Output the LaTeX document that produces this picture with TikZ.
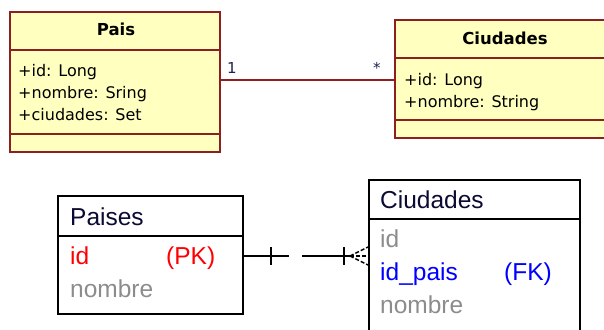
\documentclass[tikz,border=0pt]{standalone}
\usepackage{fontspec}
\setmainfont{DejaVu Sans}
\newfontfamily\erfont{Liberation Sans}
\usetikzlibrary{calc}
\definecolor{umlfill}{RGB}{255,255,192}
\definecolor{umlred}{RGB}{140,32,32}
\definecolor{lblblue}{RGB}{30,30,80}
\definecolor{ertitle}{RGB}{10,10,50}
\definecolor{erred}{RGB}{255,0,0}
\definecolor{ergray}{RGB}{140,140,140}
\definecolor{erblue}{RGB}{0,0,255}
\tikzset{
  umlbox/.style={draw=umlred, fill=umlfill, line width=1.8pt, inner sep=0pt, anchor=north west},
  umlsep/.style={draw=umlred, line width=1.8pt},
  umlconn/.style={draw=umlred, line width=1.5pt},
  umltitle/.style={font=\fontsize{16.5}{19}\selectfont\bfseries, inner sep=0pt, anchor=base},
  umltxt/.style={font=\fontsize{16}{19}\selectfont, inner sep=0pt, anchor=base west},
  umllbl/.style={font=\fontsize{15}{18}\selectfont, text=lblblue, inner sep=0pt, anchor=base west},
  erbox/.style={draw=black, line width=1.8pt, inner sep=0pt, anchor=north west},
  ersep/.style={draw=black, line width=1.8pt},
  erconn/.style={draw=black, line width=1.5pt},
  ercrow/.style={draw=black, line width=1.5pt, dash pattern=on 4pt off 2pt},
  ertxt/.style={font=\erfont\fontsize{24.5}{28}\selectfont, inner sep=0pt, anchor=base west},
}
\begin{document}
\begin{tikzpicture}[x=1pt,y=-1pt]
\useasboundingbox (0,0) rectangle (604,329);
\clip (0,0) rectangle (604,329);
% ---- UML Pais
\node[umlbox, minimum width=210pt, minimum height=140pt] (pais) at (9,11) {};
\draw[umlsep] (pais.west |- 0,50) -- (pais.east |- 0,50);
\draw[umlsep] (pais.west |- 0,134) -- (pais.east |- 0,134);
\node[umltitle] (paisT) at (116,36) {Pais};
\node[umltxt] (pa1) at (18,76) {+id: Long};
\node[umltxt] (pa2) at (18,98) {+nombre: Sring};
\node[umltxt] (pa3) at (18,120) {+ciudades: Set};
% ---- UML Ciudades
\node[umlbox, minimum width=230pt, minimum height=118pt] (ciud) at (394,19) {};
\draw[umlsep] (ciud.west |- 0,58) -- (ciud.east |- 0,58);
\draw[umlsep] (ciud.west |- 0,120) -- (ciud.east |- 0,120);
\node[umltitle] (ciudT) at (505,45) {Ciudades};
\node[umltxt] (ca1) at (404,85) {+id: Long};
\node[umltxt] (ca2) at (404,107) {+nombre: String};
% ---- UML association
\draw[umlconn] (pais.east |- 0,80) -- (ciud.west |- 0,80);
\node[umllbl] (one) at (227,73) {1};
\node[umllbl] (many) at (373,74) {*};
% ---- ER Paises
\node[erbox, minimum width=185pt, minimum height=118pt] (paises) at (57,195) {};
\draw[ersep] (paises.west |- 0,236) -- (paises.east |- 0,236);
\node[ertxt, text=ertitle] (psT) at (70,225) {Paises};
\node[ertxt, text=erred] (ps1) at (70,264) {id};
\node[ertxt, text=erred] (ps1k) at (166,264) {(PK)};
\node[ertxt, text=ergray] (ps2) at (70,297) {nombre};
% ---- ER Ciudades
\node[erbox, minimum width=211pt, minimum height=170pt] (ciuder) at (368,179) {};
\draw[ersep] (ciuder.west |- 0,219) -- (ciuder.east |- 0,219);
\node[ertxt, text=ertitle] (ceT) at (380,208) {Ciudades};
\node[ertxt, text=ergray] (ce1) at (380,247) {id};
\node[ertxt, text=erblue] (ce2) at (380,280) {id\_pais};
\node[ertxt, text=erblue] (ce2k) at (504,280) {(FK)};
\node[ertxt, text=ergray] (ce3) at (380,313) {nombre};
% ---- ER relationship
\path (paises.east |- 0,256) coordinate (pe);
\path (ciuder.west |- 0,256) coordinate (ce);
\draw[erconn] (pe) -- ($(pe)+(45,0)$) coordinate (pend);
\draw[erconn] ($(pe)+(27,-9)$) -- ($(pe)+(27,9)$);
\draw[erconn] ($(ce)+(-66,0)$) coordinate (cstart) -- ($(ce)+(-18,0)$) coordinate (cfoot);
\draw[erconn] ($(ce)+(-24,-9)$) -- ($(ce)+(-24,9)$);
\draw[ercrow] (cfoot) -- ($(ce)+(0,-9)$);
\draw[ercrow] (cfoot) -- (ce);
\draw[ercrow] (cfoot) -- ($(ce)+(0,9)$);
\end{tikzpicture}
\end{document}
